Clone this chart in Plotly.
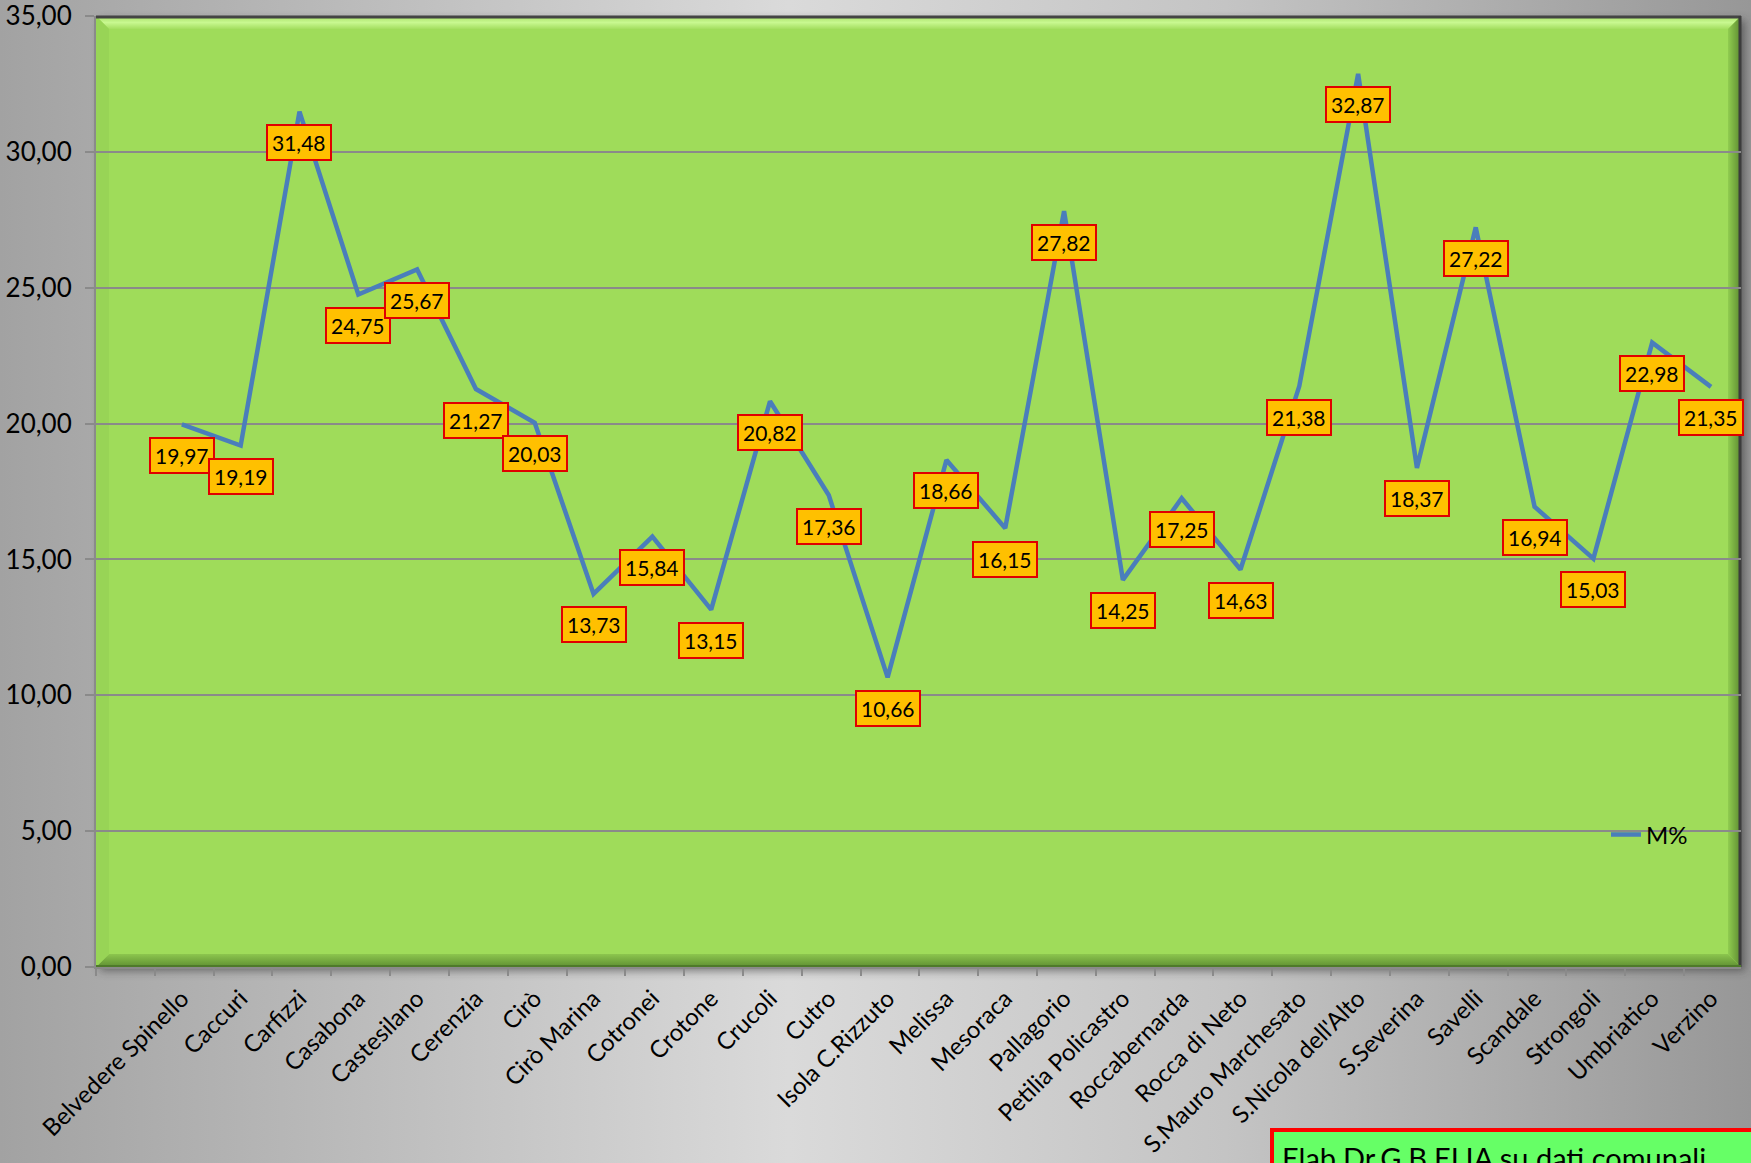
import base64
import plotly.graph_objects as go

# ---------------- data ----------------
comuni = ["Belvedere Spinello", "Caccuri", "Carfizzi", "Casabona", "Castesilano", "Cerenzia",
          "Cirò", "Cirò Marina", "Cotronei", "Crotone", "Crucoli", "Cutro", "Isola C.Rizzuto",
          "Melissa", "Mesoraca", "Pallagorio", "Petilia Policastro", "Roccabernarda",
          "Rocca di Neto", "S.Mauro Marchesato", "S.Nicola dell'Alto", "S.Severina", "Savelli",
          "Scandale", "Strongoli", "Umbriatico", "Verzino"]
m_pct = [19.97, 19.19, 31.48, 24.75, 25.67, 21.27, 20.03, 13.73, 15.84, 13.15, 20.82, 17.36,
         10.66, 18.66, 16.15, 27.82, 14.25, 17.25, 14.63, 21.38, 32.87, 18.37, 27.22, 16.94,
         15.03, 22.98, 21.35]
series_name = "M%"
y_ticks = [0, 5, 10, 15, 20, 25, 30, 35]
credit = "Elab.Dr.G.B.ELIA su dati comunali"

# ---------------- layout geometry ----------------
W, H = 1751, 1163
L, R, T, B = 96, 10, 16, 196
PW, PH = W - L - R, H - T - B
FONT = "Lato, Calibri, 'Open Sans', sans-serif"
idx = list(range(len(comuni)))
x_range = [-1.46, len(comuni) - 0.49]

# background (gray gradient + green bevelled plot wall) as an SVG image
x0, y0, x1, y1 = L, T, W - R, H - B
bv = 13
svg = f'''<svg xmlns="http://www.w3.org/2000/svg" width="{W}" height="{H}" viewBox="0 0 {W} {H}" preserveAspectRatio="none">
<defs>
<linearGradient id="bg" x1="0" y1="0" x2="1" y2="0">
<stop offset="0" stop-color="#a2a2a2"/>
<stop offset="0.45" stop-color="#dadada"/>
<stop offset="0.7" stop-color="#c4c4c4"/>
<stop offset="1" stop-color="#979797"/>
</linearGradient>
<linearGradient id="top" x1="0" y1="0" x2="0" y2="1">
<stop offset="0" stop-color="#a8e068"/>
<stop offset="0.5" stop-color="#c8f890"/>
<stop offset="1" stop-color="#a4de60"/>
</linearGradient>
<linearGradient id="bot" x1="0" y1="0" x2="0" y2="1">
<stop offset="0" stop-color="#8cc64e"/>
<stop offset="1" stop-color="#5f8f32"/>
</linearGradient>
<linearGradient id="rgt" x1="0" y1="0" x2="1" y2="0">
<stop offset="0" stop-color="#90cc50"/>
<stop offset="1" stop-color="#5c8a30"/>
</linearGradient>
<filter id="sh" x="-5%" y="-5%" width="110%" height="110%"><feGaussianBlur stdDeviation="4"/></filter>
</defs>
<rect width="{W}" height="{H}" fill="url(#bg)"/>
<rect x="{x0+4}" y="{y0+4}" width="{x1-x0}" height="{y1-y0}" fill="#333" opacity="0.55" filter="url(#sh)"/>
<rect x="{x0}" y="{y0}" width="{x1-x0}" height="{y1-y0}" fill="#9fdc5a"/>
<polygon points="{x0},{y0} {x1},{y0} {x1-bv},{y0+bv} {x0+bv},{y0+bv}" fill="url(#top)"/>
<polygon points="{x1},{y0} {x1},{y1} {x1-bv},{y1-bv} {x1-bv},{y0+bv}" fill="url(#rgt)"/>
<polygon points="{x0},{y1} {x1},{y1} {x1-bv},{y1-bv} {x0+bv},{y1-bv}" fill="url(#bot)"/>
<polygon points="{x0},{y0} {x0},{y1} {x0+bv},{y1-bv} {x0+bv},{y0+bv}" fill="#98d456"/>
<line x1="{x0}" y1="{y0+1}" x2="{x1}" y2="{y0+1}" stroke="#444" stroke-width="3"/>
<line x1="{x1-1}" y1="{y0}" x2="{x1-1}" y2="{y1}" stroke="#3c3c3c" stroke-width="3"/>
<line x1="{x0}" y1="{y1-1}" x2="{x1}" y2="{y1-1}" stroke="#4e7a2a" stroke-width="2"/>
</svg>'''
svg_uri = "data:image/svg+xml;base64," + base64.b64encode(svg.encode("utf-8")).decode("ascii")

fig = go.Figure()
fig.add_trace(go.Scatter(
    x=idx, y=m_pct, mode="lines", name=series_name,
    line=dict(color="#4A7EBB", width=4.5),
    hoverinfo="skip",
))
# helper trace for category-boundary tick marks
fig.add_trace(go.Scatter(x=[], y=[], xaxis="x2", showlegend=False, hoverinfo="skip"))

annotations = []
for i, v in zip(idx, m_pct):
    annotations.append(dict(
        x=i, y=v, xref="x", yref="y", showarrow=False, yshift=-31,
        text=f"{v:.2f}".replace(".", ","),
        font=dict(family=FONT, size=21, color="#000000"),
        bgcolor="#FFC000", bordercolor="#E00000", borderwidth=2, borderpad=4,
    ))
annotations.append(dict(
    x=(1270 - L) / PW, y=(y1 - 1128) / PH, xref="paper", yref="paper",
    xanchor="left", yanchor="top", showarrow=False, align="left", valign="top",
    text=credit, width=560, height=70,
    font=dict(family=FONT, size=29, color="#000000"),
    bgcolor="#66FF66", bordercolor="#FF0000", borderwidth=4, borderpad=8,
))

fig.update_layout(
    width=W, height=H,
    margin=dict(l=L, r=R, t=T, b=B, pad=0, autoexpand=False),
    paper_bgcolor="#b8b8b8",
    plot_bgcolor="rgba(0,0,0,0)",
    separators=",.",
    font=dict(family=FONT, color="#000000"),
    showlegend=True,
    legend=dict(x=(1606 - L) / PW, y=(y1 - 835) / PH, xanchor="left", yanchor="middle",
                bgcolor="rgba(0,0,0,0)", font=dict(family=FONT, size=24, color="#000")),
    xaxis=dict(range=x_range, tickmode="array", tickvals=idx, ticktext=comuni,
               tickangle=-45, tickfont=dict(family=FONT, size=24, color="#000"),
               showgrid=False, zeroline=False, ticks="", showline=True, automargin=False,
               linecolor="#8a8a8a", linewidth=2, ticklabelstandoff=6, fixedrange=True),
    xaxis2=dict(range=x_range, overlaying="x", side="bottom", tickmode="linear",
                tick0=x_range[0], dtick=1, ticks="outside", ticklen=8, tickwidth=2,
                tickcolor="#8a8a8a", showticklabels=False, showgrid=False, automargin=False,
                zeroline=False, showline=False, fixedrange=True),
    yaxis=dict(range=[0, 35], tickmode="array", tickvals=y_ticks, tickformat=".2f",
               tickfont=dict(family=FONT, size=26, color="#000"),
               showgrid=True, gridcolor="#8a8a8a", gridwidth=2, zeroline=False,
               ticks="outside", ticklen=9, tickwidth=2, tickcolor="#8a8a8a",
               showline=True, linecolor="#8a8a8a", linewidth=2, automargin=False,
               ticklabelstandoff=8, ticklabeloverflow="allow", fixedrange=True),
    images=[dict(source=svg_uri, xref="paper", yref="paper",
                 x=-L / PW, y=1 + T / PH, sizex=W / PW, sizey=H / PH,
                 xanchor="left", yanchor="top", sizing="stretch", layer="below")],
    annotations=annotations,
)

fig.write_html("out.html", config={"displayModeBar": False},
               post_script="document.body.style.margin='0';document.body.style.overflow='hidden';")
